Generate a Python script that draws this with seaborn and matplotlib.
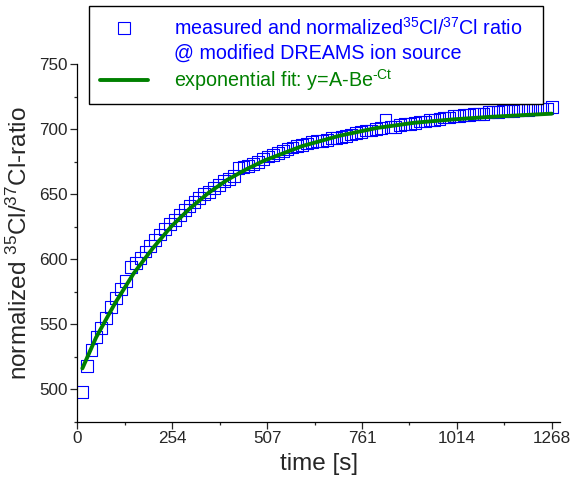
import numpy as np
import pandas as pd
import seaborn as sns
import matplotlib.pyplot as plt
from matplotlib.lines import Line2D
from matplotlib.ticker import MultipleLocator, FixedLocator

# measured ratio, one point every 13.1 s starting at 11.5 s
t_start = 11.5
t_step = 13.1
ratio = [
    498, 518, 530, 540, 547, 555, 563, 570, 577, 583,
    594, 597, 601, 606, 610, 615, 619, 623, 627, 630,
    634, 638, 641, 644, 647, 650, 652, 655, 657, 660,
    662, 664, 670, 671, 672, 673, 675, 677, 679, 680,
    682, 683, 685, 686, 687, 688, 689, 690, 691, 691,
    692, 693, 693, 694, 695, 696, 697, 698, 699, 699,
    700, 701, 707, 702, 702, 703, 704, 704, 705, 706,
    706, 707, 707, 708, 709, 709, 710, 710, 711, 711,
    712, 712, 712, 713, 713, 713, 714, 714, 714, 715,
    715, 715, 716, 716, 716, 716, 717,
]
time_s = t_start + t_step * np.arange(len(ratio))

# exponential fit curve
fit_t = [13, 50, 100, 150, 200, 250, 300, 350, 400, 450, 500,
         600, 700, 800, 900, 1000, 1100, 1200, 1268]
fit_y = [516, 540, 566, 589, 608, 625, 639, 651, 661, 669, 676,
         687, 695, 701, 705, 707.5, 709.5, 711, 712]

xtick_vals = [0, 253.6, 507.2, 760.8, 1014.4, 1268]
xtick_labels = ["0", "254", "507", "761", "1014", "1268"]

meas = pd.DataFrame({"t": time_s, "ratio": ratio})
fit = pd.DataFrame({"t": fit_t, "y": fit_y})

sns.set_style("ticks")
plt.rcParams["font.family"] = ["Liberation Sans", "DejaVu Sans"]
plt.rcParams["mathtext.fontset"] = "custom"
plt.rcParams["mathtext.rm"] = "Liberation Sans"
plt.rcParams["mathtext.it"] = "Liberation Sans:italic"

BLUE = "#0000FF"
GREEN = "#008000"

fig = plt.figure(figsize=(5.71, 4.83), dpi=100)
ax = fig.add_axes([0.1357, 0.1269, 0.845, 0.740])

sns.scatterplot(data=meas, x="t", y="ratio", ax=ax, marker="s", s=72,
                facecolor="none", edgecolor=BLUE, linewidth=0.8, zorder=2)
sns.lineplot(data=fit, x="t", y="y", ax=ax, color=GREEN, linewidth=2.8, zorder=3)

ax.set_xlim(0, 1290)
ax.set_ylim(475, 750)
ax.xaxis.set_major_locator(FixedLocator(xtick_vals))
ax.set_xticklabels(xtick_labels)
ax.xaxis.set_minor_locator(FixedLocator([126.8, 380.4, 634, 887.6, 1141.2]))
ax.yaxis.set_major_locator(MultipleLocator(50))
ax.yaxis.set_minor_locator(MultipleLocator(25))

ax.tick_params(which="major", direction="out", length=5, width=0.9, labelsize=12.3, pad=2)
ax.tick_params(which="minor", direction="out", length=2.5, width=0.9)
sns.despine(ax=ax)
for sp in ["left", "bottom"]:
    ax.spines[sp].set_linewidth(0.9)
    ax.spines[sp].set_color("black")

ax.set_xlabel("time [s]", fontsize=17.5, labelpad=5)
ax.set_ylabel(r"normalized $\mathregular{^{35}}$Cl/$\mathregular{^{37}}$Cl-ratio",
              fontsize=17.5, labelpad=5)

handles = [
    Line2D([], [], ls="none", marker="s", ms=8.5, mfc="none", mec=BLUE, mew=0.8),
    Line2D([], [], ls="none"),
    Line2D([], [], color=GREEN, lw=2.8),
]
labels = [
    r"measured and normalized$\mathregular{^{35}}$Cl/$\mathregular{^{37}}$Cl ratio",
    "@ modified DREAMS ion source",
    "exponential fit: y=A-Be$\\mathregular{^{\u2010Ct}}$",
]
leg = fig.legend(handles, labels, loc="upper left",
                 bbox_to_anchor=(0.156, 0.4, 0.795, 0.588), mode="expand",
                 fontsize=14.25, frameon=True, fancybox=False, framealpha=1,
                 edgecolor="black", handlelength=2.45, handletextpad=1.28,
                 borderpad=0.55, labelspacing=0.25, borderaxespad=0)
leg.get_frame().set_linewidth(1.0)
for txt, c in zip(leg.get_texts(), [BLUE, BLUE, GREEN]):
    txt.set_color(c)

fig.savefig("out.png", dpi=100)
